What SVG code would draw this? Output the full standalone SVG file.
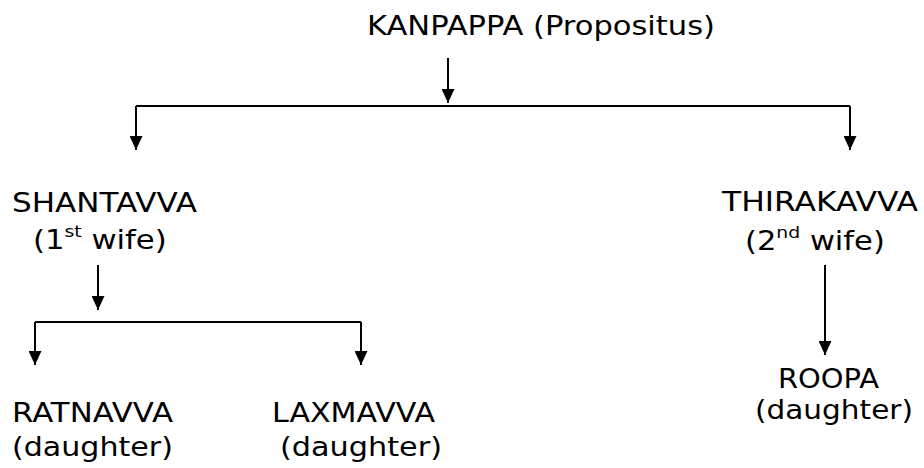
<svg xmlns="http://www.w3.org/2000/svg" width="924" height="468" viewBox="0 0 924 468">
<style>
text{font-family:"DejaVu Sans","Liberation Sans",sans-serif;font-size:26px;fill:#000}
.c{fill:none;stroke:#000;stroke-width:2}
</style>
<defs>
<marker id="ah" markerUnits="userSpaceOnUse" markerWidth="14" markerHeight="13" refX="14" refY="6.5" orient="auto">
<path d="M0,0 L14,6.5 L0,13 z" fill="#000"/>
</marker>
</defs>
<rect width="924" height="468" fill="#fff"/>
<g id="connectors">
<path class="c" d="M448,58 V103" marker-end="url(#ah)"/>
<path class="c" d="M136,106 H850"/>
<path class="c" d="M136,106 V150" marker-end="url(#ah)"/>
<path class="c" d="M850,106 V150" marker-end="url(#ah)"/>
<path class="c" d="M98,265 V310" marker-end="url(#ah)"/>
<path class="c" d="M35,322 H361"/>
<path class="c" d="M35,322 V365" marker-end="url(#ah)"/>
<path class="c" d="M361,322 V365" marker-end="url(#ah)"/>
<path class="c" d="M825,265 V355" marker-end="url(#ah)"/>
</g>
<g id="kanpappa">
<text x="367" y="35" style="font-size:27px" textLength="348" lengthAdjust="spacingAndGlyphs">KANPAPPA (Propositus)</text>
</g>
<g id="shantavva">
<text x="12" y="212" textLength="185" lengthAdjust="spacingAndGlyphs">SHANTAVVA</text>
<text transform="translate(33,249) scale(1.18,1)">(1<tspan style="font-size:16px" dy="-12">st</tspan><tspan dy="12"> wife)</tspan></text>
</g>
<g id="thirakavva">
<text x="722" y="211" textLength="196" lengthAdjust="spacingAndGlyphs">THIRAKAVVA</text>
<text transform="translate(745,250) scale(1.175,1)">(2<tspan style="font-size:16px" dy="-12">nd</tspan><tspan dy="12"> wife)</tspan></text>
</g>
<g id="ratnavva">
<text x="12" y="422" textLength="161" lengthAdjust="spacingAndGlyphs">RATNAVVA</text>
<text x="12" y="456" textLength="161" lengthAdjust="spacingAndGlyphs">(daughter)</text>
</g>
<g id="laxmavva">
<text x="272" y="422" textLength="163" lengthAdjust="spacingAndGlyphs">LAXMAVVA</text>
<text x="280" y="456" textLength="162" lengthAdjust="spacingAndGlyphs">(daughter)</text>
</g>
<g id="roopa">
<text x="778" y="388" textLength="101" lengthAdjust="spacingAndGlyphs">ROOPA</text>
<text x="755" y="419" textLength="158" lengthAdjust="spacingAndGlyphs">(daughter)</text>
</g>
</svg>
